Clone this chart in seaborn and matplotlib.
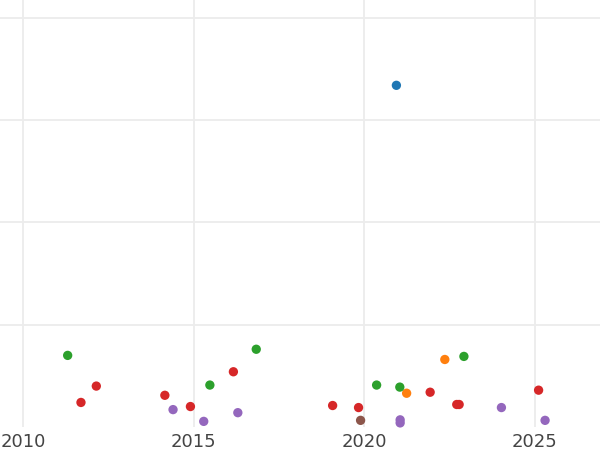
import matplotlib
matplotlib.use("Agg")
import matplotlib.pyplot as plt
import seaborn as sns
import pandas as pd

# values
years = [2020.95,
         2022.37, 2021.25,
         2011.31, 2015.48, 2016.84, 2020.37, 2021.05, 2022.93,
         2011.70, 2012.15, 2014.16, 2014.91, 2016.17, 2019.08, 2019.84,
         2021.94, 2022.72, 2022.79, 2025.12,
         2014.40, 2015.30, 2016.30, 2021.06, 2021.06, 2024.03, 2025.31,
         2019.90]
values = [334,
          66, 33,
          70, 41, 76, 41, 39, 69,
          24, 40, 31, 20, 54, 21, 19,
          34, 22, 22, 36,
          17, 5.5, 14, 7, 4, 19, 6.5,
          6.5]
groups = (["A"] + ["B"] * 2 + ["C"] * 6 + ["D"] * 11 + ["E"] * 7 + ["F"])
group_order = ["A", "B", "C", "D", "E", "F"]

df = pd.DataFrame({"year": years, "value": values, "group": groups})

sns.set_style("whitegrid")
fig = plt.figure(figsize=(6, 4.5), dpi=100)
ax = fig.add_axes([0, 23 / 450, 1, 427 / 450])

sns.scatterplot(data=df, x="year", y="value", hue="group", hue_order=group_order,
                palette="tab10", s=45, edgecolor="none", legend=False,
                clip_on=False, ax=ax)

ax.set_xlim(2010 - 23 / 34.1, 2010 + 577 / 34.1)
ax.set_ylim(0, 427 / 1.023)
ax.set_xticks([2010, 2015, 2020, 2025])
ax.set_yticks([100, 200, 300, 400])
ax.set_yticklabels([])
ax.grid(True, color="#ececec", linewidth=1.3)
ax.set_axisbelow(True)
for sp in ax.spines.values():
    sp.set_visible(False)
ax.tick_params(axis="x", length=0, pad=4, labelsize=13, labelcolor="#444444")
ax.tick_params(axis="y", length=0)
ax.set_xlabel("")
ax.set_ylabel("")

fig.savefig("out.png", dpi=100)
